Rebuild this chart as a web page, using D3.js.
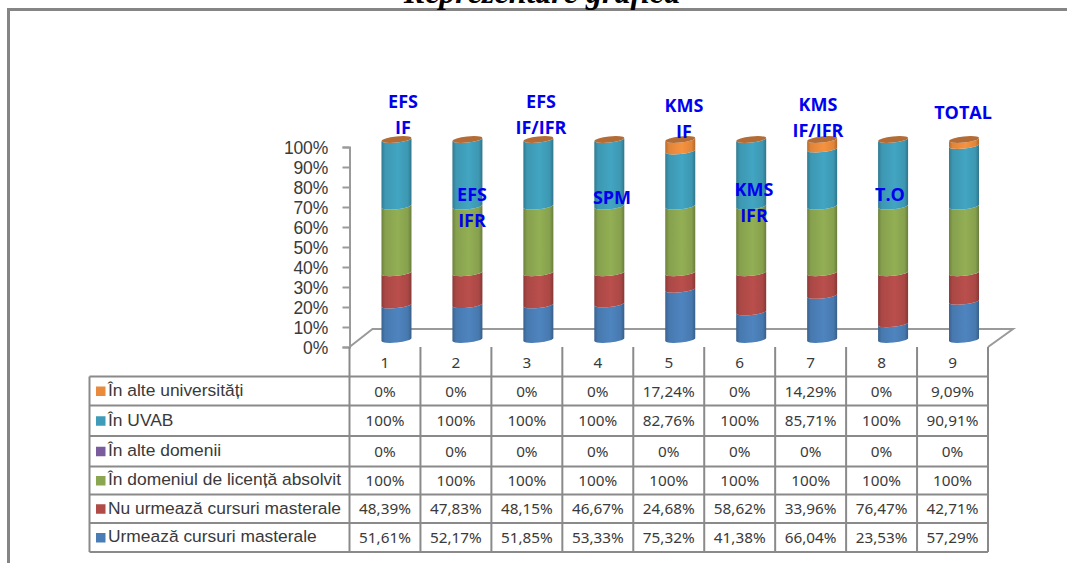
<!DOCTYPE html>
<html>
<head>
<meta charset="utf-8">
<script src="https://cdn.jsdelivr.net/npm/d3@7"></script>
<style>
  html, body { margin: 0; padding: 0; background: #fff; overflow: hidden; }
</style>
</head>
<body>
<div id="chart"></div>
<script>
var categories = ["1", "2", "3", "4", "5", "6", "7", "8", "9"];

// stacked bottom to top
var seriesNames = [
  "Urmează cursuri masterale",
  "Nu urmează cursuri masterale",
  "În domeniul de licență absolvit",
  "În alte domenii",
  "În UVAB",
  "În alte universități"
];
var urmeaza = [51.61, 52.17, 51.85, 53.33, 75.32, 41.38, 66.04, 23.53, 57.29];
var nuUrmeaza = [48.39, 47.83, 48.15, 46.67, 24.68, 58.62, 33.96, 76.47, 42.71];
var domeniuLicenta = [100, 100, 100, 100, 100, 100, 100, 100, 100];
var alteDomenii = [0, 0, 0, 0, 0, 0, 0, 0, 0];
var inUvab = [100, 100, 100, 100, 82.76, 100, 85.71, 100, 90.91];
var alteUniversitati = [0, 0, 0, 0, 17.24, 0, 14.29, 0, 9.09];
var seriesValues = [urmeaza, nuUrmeaza, domeniuLicenta, alteDomenii, inUvab, alteUniversitati];

var yTicks = [0, 0.1, 0.2, 0.3, 0.4, 0.5, 0.6, 0.7, 0.8, 0.9, 1];

var noteLines = [
  ["EFS", "IF"], ["EFS", "IFR"], ["EFS", "IF/IFR"], ["SPM"], ["KMS", "IF"],
  ["KMS", "IFR"], ["KMS", "IF/IFR"], ["T.O"], ["TOTAL"]
];

// styling and layout, separate from the data
var colors = ["#4a7db5", "#b04b48", "#8ba650", "#7a5c9e", "#3f9cb8", "#e98a3c"];
var noteX = [403, 472, 541, 612, 684, 754, 818, 890, 963];
var noteY = [102, 195, 102, 198, 106, 190, 105, 195, 113];
var rowEdges = [376.5, 405.5, 436, 466.5, 494.5, 523, 552];
var gridColor = "#8a8a8a";
var textColor = "#3a3a3a";

var width = 1067, height = 563;
var depthX = 23, depthY = 18;  // floor perspective
var barShiftX = 11.5, barShiftY = -7.5;
var barRx = 15, barRy = 3, barTilt = -6, barRise = 1.6;

var svg = d3.select("#chart").append("svg")
  .attr("width", width).attr("height", height)
  .style("display", "block");

var x = d3.scaleBand().domain(categories).range([349.5, 988]);
var y = d3.scaleLinear().domain([0, 1]).range([347, 147]);

// outer frame, runs off the page on the right and bottom
svg.append("path")
  .attr("d", "M8.5," + height + "V9.5H" + width)
  .attr("fill", "none").attr("stroke", "#858585").attr("stroke-width", 3);

svg.append("text")
  .attr("x", 542).attr("y", 3)
  .attr("text-anchor", "middle")
  .style("font", "italic bold 32px 'Liberation Serif'")
  .attr("fill", "#000")
  .text("Reprezentare grafică");

// gradients make the bars read as cylinders
var defs = svg.append("defs");
colors.forEach(function (c, i) {
  var g = defs.append("linearGradient").attr("id", "cyl" + i);
  var base = d3.color(c);
  [[0, base.darker(0.7)], [0.12, base.darker(0.1)], [0.55, base.brighter(0.15)],
   [0.88, base.darker(0.1)], [1, base.darker(0.8)]].forEach(function (s) {
    g.append("stop").attr("offset", s[0]).attr("stop-color", s[1].formatHex());
  });
});

// floor
svg.append("path")
  .attr("d", "M" + x.range()[0] + "," + y(0) + "l" + depthX + "," + (-depthY) +
    "H" + (x.range()[1] + depthX + 2) + "L" + x.range()[1] + "," + y(0))
  .attr("fill", "none").attr("stroke", "#9a9a9a").attr("stroke-width", 2);

// y axis
var yAxis = d3.axisLeft(y).tickValues(yTicks).tickSize(7).tickFormat(d3.format(".0%"));
var yG = svg.append("g").attr("transform", "translate(349.5,0)").call(yAxis);
yG.selectAll("path, line").attr("stroke", "#9a9a9a").attr("stroke-width", 2);
yG.selectAll("text")
  .attr("x", -21.5).attr("dy", "0.36em")
  .style("font", "17.5px 'Liberation Sans'")
  .style("letter-spacing", "-0.2px")
  .attr("fill", textColor);

// stacked cylinders, normalised like a 100% stacked chart
var rows = categories.map(function (c, i) {
  var r = { cat: c };
  seriesNames.forEach(function (n, s) { r[n] = seriesValues[s][i]; });
  return r;
});
var stacked = d3.stack().keys(seriesNames).offset(d3.stackOffsetExpand)(rows);

function cx(d) { return x(d.data.cat) + x.bandwidth() / 2 + barShiftX; }
function barY(v) { return y(v) + barShiftY; }

function segment(d) {
  var c = cx(d), y0 = barY(d[0]), y1 = barY(d[1]);
  var arc = "A" + barRx + "," + barRy + " " + barTilt + " 0 ";
  return "M" + (c - barRx) + "," + (y0 + barRise) + arc + "0 " + (c + barRx) + "," + (y0 - barRise) +
    "L" + (c + barRx) + "," + (y1 - barRise) + arc + "1 " + (c - barRx) + "," + (y1 + barRise) + "Z";
}

var barsG = svg.append("g");
stacked.forEach(function (layer, s) {
  barsG.append("g").selectAll("path")
    .data(layer.filter(function (d) { return d[1] > d[0]; }))
    .enter().append("path")
    .attr("d", segment)
    .attr("fill", "url(#cyl" + s + ")");
});

// top cap of each cylinder takes the top series colour, darkened
barsG.append("g").selectAll("ellipse")
  .data(stacked[stacked.length - 1])
  .enter().append("ellipse")
  .attr("rx", barRx).attr("ry", barRy)
  .attr("transform", function (d) {
    return "translate(" + cx(d) + "," + barY(d[1]) + ") rotate(" + barTilt + ")";
  })
  .attr("fill", "#b36c35");

// data table
var tableLeft = 89.5, tableRight = x.range()[1];
var tableG = svg.append("g");

function fmtCell(v) { return String(v).replace(".", ",") + "%"; }

// category header
tableG.selectAll("text.head")
  .data(categories)
  .enter().append("text")
  .attr("class", "head")
  .attr("x", function (d) { return x(d) + x.bandwidth() / 2; })
  .attr("y", 368)
  .attr("text-anchor", "middle")
  .style("font", "15.3px 'Noto Sans'")
  .attr("fill", textColor)
  .text(function (d) { return d; });

// table rows run top to bottom, opposite of the stack
var tableOrder = d3.range(seriesNames.length).reverse();
var rowG = tableG.selectAll("g.row")
  .data(tableOrder)
  .enter().append("g")
  .attr("class", "row")
  .attr("transform", function (d, i) {
    return "translate(0," + (rowEdges[i] + rowEdges[i + 1]) / 2 + ")";
  });

rowG.append("rect")
  .attr("x", 96).attr("y", -4.5).attr("width", 9.5).attr("height", 9.5)
  .attr("fill", function (d) { return colors[d]; });

rowG.append("text")
  .attr("x", 108).attr("y", -1).attr("dy", "0.34em")
  .style("font", "17.4px 'Liberation Sans'")
  .attr("fill", textColor)
  .text(function (d) { return seriesNames[d]; });

rowG.each(function (s) {
  d3.select(this).selectAll("text.cell")
    .data(seriesValues[s])
    .enter().append("text")
    .attr("class", "cell")
    .attr("x", function (v, i) { return x(categories[i]) + x.bandwidth() / 2; })
    .attr("dy", "0.36em")
    .attr("text-anchor", "middle")
    .style("font", "15.3px 'Noto Sans'")
    .attr("fill", textColor)
    .text(fmtCell);
});

// table grid lines
tableG.selectAll("line.h")
  .data(rowEdges)
  .enter().append("line")
  .attr("x1", tableLeft).attr("x2", tableRight)
  .attr("y1", function (d) { return d; }).attr("y2", function (d) { return d; })
  .attr("stroke", gridColor).attr("stroke-width", 2);

tableG.selectAll("line.v")
  .data(categories.concat(["end"]))
  .enter().append("line")
  .attr("x1", function (d, i) { return i < categories.length ? x(d) : tableRight; })
  .attr("x2", function (d, i) { return i < categories.length ? x(d) : tableRight; })
  .attr("y1", y(0)).attr("y2", rowEdges[rowEdges.length - 1])
  .attr("stroke", gridColor).attr("stroke-width", 2);

tableG.append("line")
  .attr("x1", tableLeft).attr("x2", tableLeft)
  .attr("y1", rowEdges[0]).attr("y2", rowEdges[rowEdges.length - 1])
  .attr("stroke", gridColor).attr("stroke-width", 2);

// blue text boxes placed over the chart
var notes = svg.append("g").selectAll("g")
  .data(noteLines)
  .enter().append("g")
  .attr("transform", function (d, i) { return "translate(" + noteX[i] + "," + noteY[i] + ")"; });

notes.selectAll("text")
  .data(function (d) { return d; })
  .enter().append("text")
  .attr("y", function (d, i) { return i * 25.5; })
  .attr("dy", "0.36em")
  .attr("text-anchor", "middle")
  .style("font", "bold 18px 'Open Sans'")
  .attr("fill", "#0000f0")
  .text(function (d) { return d; });
</script>
</body>
</html>
